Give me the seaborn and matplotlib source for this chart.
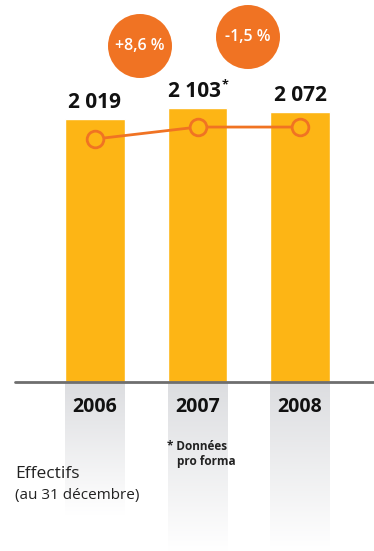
import numpy as np
import matplotlib
matplotlib.use("Agg")
import matplotlib.pyplot as plt
from matplotlib.colors import LinearSegmentedColormap
from matplotlib.patches import Ellipse
import seaborn as sns

# ---- data ----
years = ["2006", "2007", "2008"]
values = [2019, 2103, 2072]
value_labels = ["2 019", "2 103", "2 072"]
line_values = [1866, 1958, 1958]
growth_labels = ["+8,6 %", "-1,5 %"]

bar_color = "#FDB515"
orange = "#F07323"
FONT = ["Open Sans", "DejaVu Sans"]

sns.set_theme(style="white")
plt.rcParams["font.family"] = FONT

W, H = 374, 551
fig = plt.figure(figsize=(W / 100, H / 100), dpi=100)
ax = fig.add_axes([0, 0, 1, 1])

scale = 7.68        # data units per pixel
base_px = 382       # baseline pixel from top
x0_px, dx_px = 95, 102.5
ax.set_xlim(-x0_px / dx_px, (W - x0_px) / dx_px)
ax.set_ylim(-(H - base_px) * scale, base_px * scale)

# gradient columns below baseline
cmap = LinearSegmentedColormap.from_list("g", ["#dcdde0", "#ffffff"])
grad = np.linspace(0, 1, 256).reshape(-1, 1)
bw = 0.58
col_ends = [515, 551, 551]
for i, end in enumerate(col_ends):
    ax.imshow(grad, cmap=cmap, aspect="auto", zorder=0,
              extent=[i - bw / 2, i + bw / 2, -(end - base_px) * scale, 0],
              interpolation="bicubic")

sns.barplot(x=years, y=values, color=bar_color, saturation=1, width=bw, ax=ax, zorder=2)
ax.set_xlim(-x0_px / dx_px, (W - x0_px) / dx_px)
ax.set_ylim(-(H - base_px) * scale, base_px * scale)

sns.lineplot(x=[0, 1, 2], y=line_values, color=orange, linewidth=2, marker="o",
             markersize=12, markerfacecolor=bar_color, markeredgecolor=orange,
             markeredgewidth=2, ax=ax, zorder=4)

ax.axhline(0, xmin=15 / W, xmax=1, color="#6e6e6e", linewidth=2, zorder=3)

# value labels
for i, (v, lab) in enumerate(zip(values, value_labels)):
    dx = -3 if i == 1 else 0
    ax.annotate(lab, xy=(i, v), xytext=(dx * 0.72, 17 * 0.72), textcoords="offset points",
                ha="center", va="center", fontsize=15, fontweight="bold", color="#111111")
ax.annotate("*", xy=(1, values[1]), xytext=(28 * 0.72, 23 * 0.72), textcoords="offset points",
            ha="center", va="center", fontsize=9, fontweight="bold", color="#111111")

# year labels
for i, y in enumerate(years):
    ax.text(i, -(407 - base_px) * scale, y, ha="center", va="center",
            fontsize=14, fontweight="bold", color="#111111")

# growth bubbles
centers = [(140, 46), (248, 37)]
r = 32
for (cx, cy), lab in zip(centers, growth_labels):
    e = Ellipse((cx / W, 1 - cy / H), 2 * r / W, 2 * r / H, transform=fig.transFigure,
                facecolor=orange, edgecolor="none", zorder=5)
    fig.patches.append(e)
    fig.text(cx / W, 1 - cy / H, lab, ha="center", va="center", color="white",
             fontsize=11.5, fontweight="semibold", zorder=6)

# footnote
fig.text(167 / W, 1 - 446 / H, "* Données", ha="left", va="center",
         fontsize=8.5, fontweight="bold", color="#222222")
fig.text(177 / W, 1 - 461 / H, "pro forma", ha="left", va="center",
         fontsize=8.5, fontweight="bold", color="#222222")

# title
fig.text(15 / W, 1 - 474 / H, "Effectifs", ha="left", va="center",
         fontsize=12.5, color="#222222")
fig.text(15 / W, 1 - 496 / H, "(au 31 décembre)", ha="left", va="center",
         fontsize=11, color="#222222")

ax.axis("off")
fig.savefig("out.png", dpi=100)
